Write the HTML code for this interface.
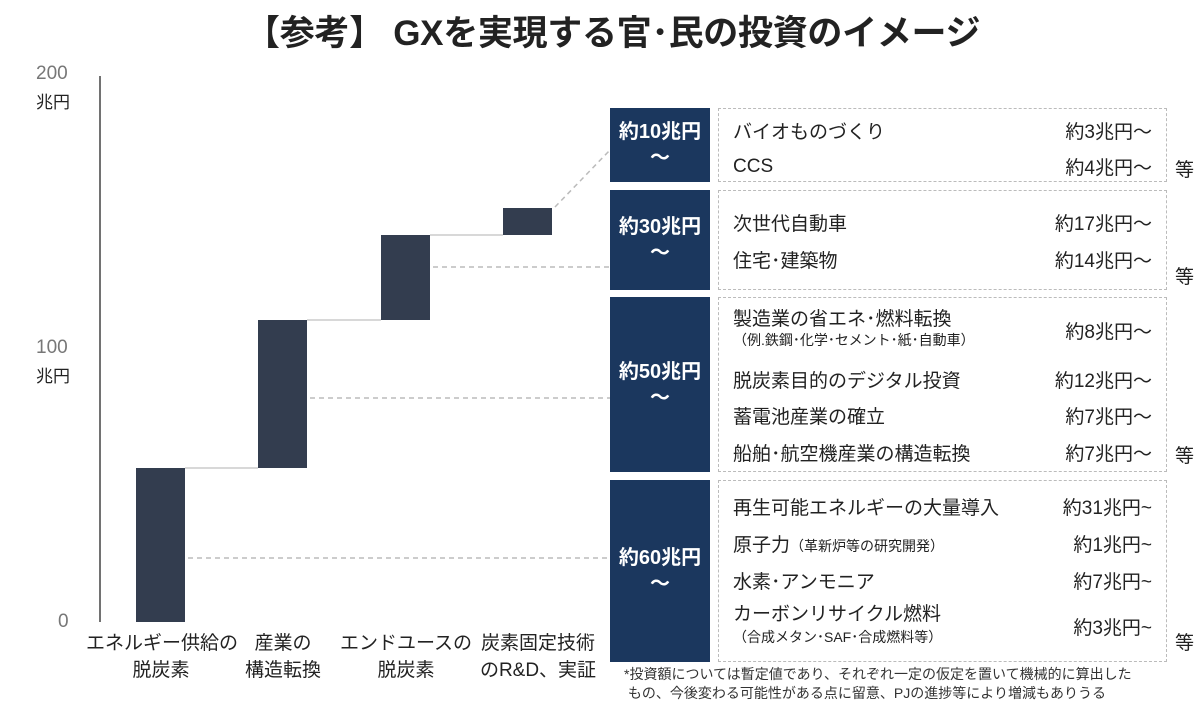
<!DOCTYPE html>
<html><head><meta charset="utf-8"><style>
body{margin:0;width:1200px;height:707px;background:#fff;position:relative;overflow:hidden;font-family:"Liberation Sans","Noto Sans CJK JP",sans-serif;color:#222}
.a{position:absolute;white-space:nowrap}
.nv{position:absolute;left:610px;width:100px;background:#1b375e;color:#fff;font-weight:bold;font-size:20px;display:flex;flex-direction:column;justify-content:center;align-items:center;line-height:26px}
.db{position:absolute;left:718px;width:449px;border:1.5px dashed #bbb;box-sizing:border-box}
.r{position:absolute;left:14px;right:14px;font-size:19px;display:flex;justify-content:space-between;align-items:center}
.s{font-size:14px}
.bar{position:absolute;background:#333d4f;width:49px}
.etc{position:absolute;left:1175px;font-size:19px}
</style></head><body>
<div class="a" style="left:245px;top:5px;font-size:35px;font-weight:bold;letter-spacing:-0.3px">【参考】 GXを実現する官･民の投資のイメージ</div>

<svg class="a" style="left:0;top:0" width="610" height="707">
<line x1="100" y1="76" x2="100" y2="622" stroke="#444" stroke-width="1.5"/>
<line x1="185" y1="468" x2="258" y2="468" stroke="#ccc" stroke-width="1.5"/>
<line x1="307" y1="320" x2="381" y2="320" stroke="#ccc" stroke-width="1.5"/>
<line x1="430" y1="235" x2="503" y2="235" stroke="#ccc" stroke-width="1.5"/>
<g stroke="#bbb" stroke-width="1.5" stroke-dasharray="5,4">
<line x1="555" y1="207" x2="610" y2="150"/>
<line x1="433" y1="267" x2="610" y2="267"/>
<line x1="310" y1="398" x2="610" y2="398"/>
<line x1="188" y1="558" x2="610" y2="558"/>
</g>
</svg>
<div class="bar" style="left:136px;top:468px;height:154px"></div>
<div class="bar" style="left:258px;top:320px;height:148px"></div>
<div class="bar" style="left:381px;top:235px;height:85px"></div>
<div class="bar" style="left:503px;top:208px;height:27px"></div>

<div class="a" style="left:36px;top:63px;font-size:19px;color:#777">200</div>
<div class="a" style="left:36px;top:88px;font-size:17px">兆円</div>
<div class="a" style="left:36px;top:337px;font-size:19px;color:#777">100</div>
<div class="a" style="left:36px;top:362px;font-size:17px">兆円</div>
<div class="a" style="left:58px;top:611px;font-size:19px;color:#777">0</div>

<div class="a" style="left:86px;top:630px;font-size:19px;text-align:center;line-height:27px;width:150px">エネルギー供給の<br>脱炭素</div>
<div class="a" style="left:228px;top:630px;font-size:19px;text-align:center;line-height:27px;width:110px">産業の<br>構造転換</div>
<div class="a" style="left:338px;top:630px;font-size:19px;text-align:center;line-height:27px;width:136px">エンドユースの<br>脱炭素</div>
<div class="a" style="left:468px;top:630px;font-size:19px;text-align:center;line-height:27px;width:140px">炭素固定技術<br>のR&amp;D、実証</div>

<div class="nv" style="top:108px;height:74px">約10兆円<span>～</span></div>
<div class="nv" style="top:190px;height:100px">約30兆円<span>～</span></div>
<div class="nv" style="top:297px;height:175px">約50兆円<span>～</span></div>
<div class="nv" style="top:480px;height:182px">約60兆円<span>～</span></div>

<div class="db" style="top:108px;height:74px">
<div class="r" style="top:8px"><span>バイオものづくり</span><span>約3兆円～</span></div>
<div class="r" style="top:44px"><span>CCS</span><span>約4兆円～</span></div></div>
<div class="etc" style="top:155px">等</div>

<div class="db" style="top:190px;height:100px">
<div class="r" style="top:18px"><span>次世代自動車</span><span>約17兆円～</span></div>
<div class="r" style="top:55px"><span>住宅･建築物</span><span>約14兆円～</span></div></div>
<div class="etc" style="top:262px">等</div>

<div class="db" style="top:297px;height:175px">
<div class="r" style="top:10px;height:44px"><span style="line-height:20px">製造業の省エネ･燃料転換<br><span class="s">（例.鉄鋼･化学･セメント･紙･自動車）</span></span><span>約8兆円～</span></div>
<div class="r" style="top:68px"><span>脱炭素目的のデジタル投資</span><span>約12兆円～</span></div>
<div class="r" style="top:104px"><span>蓄電池産業の確立</span><span>約7兆円～</span></div>
<div class="r" style="top:141px"><span>船舶･航空機産業の構造転換</span><span>約7兆円～</span></div></div>
<div class="etc" style="top:441px">等</div>

<div class="db" style="top:480px;height:182px">
<div class="r" style="top:12px"><span>再生可能エネルギーの大量導入</span><span>約31兆円~</span></div>
<div class="r" style="top:49px"><span>原子力<span class="s">（革新炉等の研究開発）</span></span><span>約1兆円~</span></div>
<div class="r" style="top:86px"><span>水素･アンモニア</span><span>約7兆円~</span></div>
<div class="r" style="top:122px;height:46px"><span style="line-height:22px">カーボンリサイクル燃料<br><span class="s">（合成メタン･SAF･合成燃料等）</span></span><span>約3兆円~</span></div></div>
<div class="etc" style="top:628px">等</div>

<div class="a" style="left:624px;top:665px;font-size:14px;line-height:19px;color:#333">*投資額については暫定値であり、それぞれ一定の仮定を置いて機械的に算出した<br>&nbsp;もの、今後変わる可能性がある点に留意、PJの進捗等により増減もありうる</div>
</body></html>
